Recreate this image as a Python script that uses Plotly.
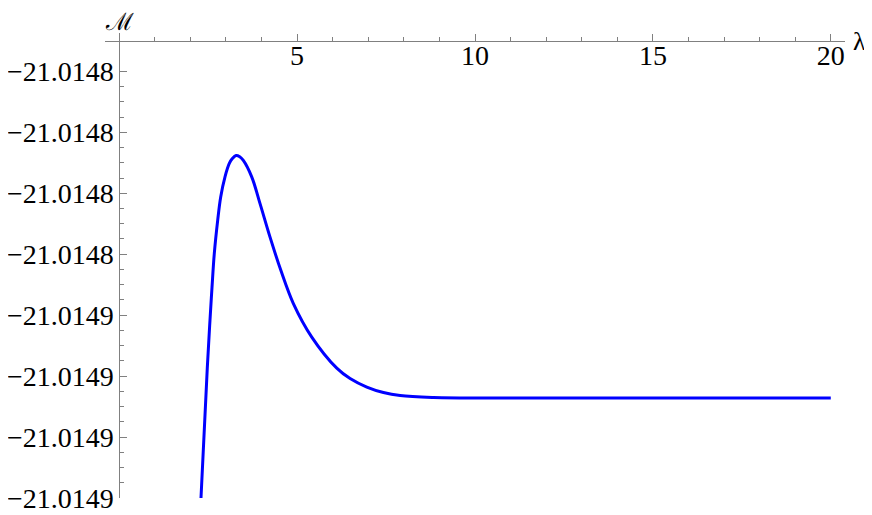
import numpy as np
import plotly.graph_objects as go

# curve; M is given as an offset (units of 1e-9) from M_REF
M_REF = -21.01485
lam = [2.298, 2.475, 2.551, 2.608, 2.672, 2.768, 2.852, 2.973, 3.094, 3.179,
       3.283, 3.387, 3.488, 3.724, 3.958, 4.239, 4.540, 4.895, 5.412, 6.115, 6.489,
       6.959, 7.426, 7.896, 8.833, 10.71, 15.0, 20.0]
m_offset = [-35.0, -13.7, -5.8, -0.4, 5.1, 10.6, 14.4, 17.7, 19.9, 20.7,
            21.2, 21.0, 20.4, 17.7, 13.3, 7.8, 2.4, -3.1, -8.6, -13.7, -15.4,
            -16.8, -17.7, -18.2, -18.5, -18.6, -18.6, -18.6]

x_ticks = [5, 10, 15, 20]
y_tick_offsets = [35, 25, 15, 5, -5, -15, -25, -35]
y_tick_labels = ["−21.0148", "−21.0148", "−21.0148", "−21.0148",
                 "−21.0149", "−21.0149", "−21.0149", "−21.0149"]


def to_m(off):
    return M_REF + np.asarray(off, dtype=float) * 1e-9


AX = "#808080"
FONT = "Liberation Serif"

fig = go.Figure()
fig.add_trace(go.Scatter(
    x=lam, y=to_m(m_offset), mode="lines",
    line=dict(color="#0000ff", width=3, shape="spline", smoothing=1.0),
    showlegend=False, hoverinfo="skip",
))

# the page body adds an 8px margin, so the figure is 8px smaller each way
fig.update_layout(
    width=864, height=507,
    margin=dict(l=97, r=27, t=25, b=17),
    plot_bgcolor="white", paper_bgcolor="white",
    xaxis=dict(
        range=[-0.4, 20.4], side="top", anchor="free", position=0.9828,
        automargin=False,
        showline=True, linecolor=AX, linewidth=1,
        ticks="outside", ticklen=7, tickcolor=AX, tickwidth=1,
        tickvals=x_ticks, ticklabelposition="inside", ticklabelstandoff=6,
        tickfont=dict(family=FONT, size=28, color="black"),
        showgrid=False, zeroline=False,
        minor=dict(ticks="outside", tick0=0, dtick=1, ticklen=4,
                   tickcolor=AX, showgrid=False),
    ),
    yaxis=dict(
        range=[to_m(-35.0), to_m(41.3)], anchor="free", position=0.0193,
        automargin=False,
        showline=True, linecolor=AX, linewidth=1,
        ticks="inside", ticklen=7, tickcolor=AX, tickwidth=1,
        tickvals=to_m(y_tick_offsets), ticktext=y_tick_labels,
        tickfont=dict(family=FONT, size=28, color="black"),
        showgrid=False, zeroline=False,
        minor=dict(ticks="inside", tick0=to_m(35.0), dtick=2.5e-9, ticklen=4,
                   tickcolor=AX, showgrid=False),
    ),
    annotations=[
        dict(text="ℳ", xref="paper", yref="paper", x=0.0193, y=1,
             xanchor="center", yanchor="middle", yshift=11, showarrow=False,
             font=dict(family="DejaVu Serif", size=24, color="black")),
        dict(text="λ", xref="paper", yref="paper", x=1.019, y=0.982,
             xanchor="center", yanchor="middle", showarrow=False,
             font=dict(family=FONT, size=26, color="black")),
    ],
)

fig.write_html("out.html")
